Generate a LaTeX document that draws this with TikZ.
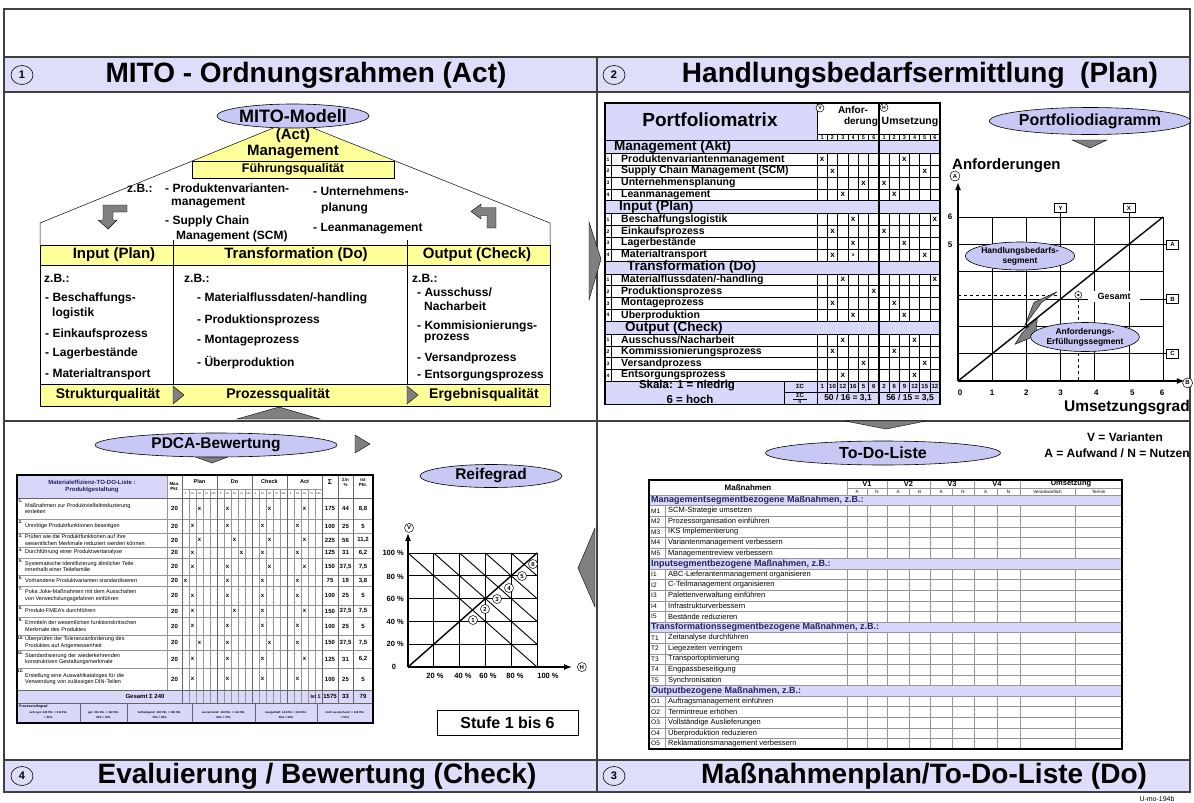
\documentclass[tikz,border=0pt]{standalone}
\usepackage{fontspec}
\setmainfont{Liberation Sans}
\usetikzlibrary{shapes.geometric,arrows.meta,positioning}

\definecolor{barlila}{RGB}{222,222,250}
\definecolor{ovallila}{RGB}{200,200,244}
\definecolor{bandlila}{RGB}{216,216,250}
\definecolor{hausgelb}{RGB}{255,255,153}
\definecolor{keilgrau}{RGB}{128,128,128}
\definecolor{gitter}{RGB}{150,150,150}
\definecolor{bandtext}{RGB}{35,35,95}

\newcommand{\schrift}[1]{\fontsize{#1}{#1}\selectfont}

\tikzset{
  rahmen/.style={draw=black!75, line width=1.4pt},
  titelbar/.style={draw=black!75, fill=barlila, line width=1.4pt},
  nummer/.style={ellipse, draw, line width=0.6pt, inner sep=0pt,
    minimum width=22pt, minimum height=19pt, font=\schrift{11}\bfseries},
  titel/.style={font=\schrift{28}\bfseries, inner sep=0pt},
  oval/.style={ellipse, draw, fill=ovallila, line width=0.6pt, inner sep=0pt},
  keil/.style={draw=black, fill=keilgrau, line width=0.4pt},
  gelbzelle/.style={draw, fill=hausgelb, line width=0.6pt},
  fett/.style={font=\schrift{#1}\bfseries, inner sep=0pt},
  links/.style={anchor=west, font=\schrift{#1}\bfseries, inner sep=0pt},
  kreis/.style={circle, draw, fill=white, line width=0.5pt, inner sep=0pt,
    minimum size=#1, font=\schrift{6}\bfseries},
  kreis/.default=9pt,
  kasten/.style={draw, fill=white, line width=0.5pt, inner sep=0pt,
    minimum width=12pt, minimum height=9pt, font=\schrift{6}\bfseries},
  duenn/.style={line width=0.5pt},
  grau/.style={draw=gitter, line width=0.4pt},
  achse/.style={line width=1.4pt, -{Latex[length=8pt,width=6pt]}},
}

\begin{document}
\begin{tikzpicture}[x=1pt, y=-1pt]
\useasboundingbox (0,0) rectangle (1194,803);

% Rahmen, Titelbalken, Quadranten
\draw[titelbar] (4,57) rectangle (1190,92);
\draw[titelbar] (4,760) rectangle (1190,792);
\draw[rahmen] (4,9) rectangle (1190,792);
\draw[rahmen] (597,57) -- (597,792);
\draw[rahmen] (4,421) -- (1190,421);

\node[nummer] (nr1) at (22,75) {1};
\node[titel] (tit1) at (306,75) {MITO - Ordnungsrahmen (Act)};
\node[nummer] (nr2) at (614,75) {2};
\node[titel] (tit2) at (920,75) {Handlungsbedarfsermittlung\ \ (Plan)};
\node[nummer] (nr4) at (22,776) {4};
\node[titel] (tit4) at (317,776) {Evaluierung / Bewertung (Check)};
\node[nummer] (nr3) at (614,776) {3};
\node[titel] (tit3) at (924,776) {Maßnahmenplan/To-Do-Liste (Do)};
\node[font=\schrift{7}, inner sep=0pt] (kennung) at (1157,799) {U-mo-194b};

% 1: MITO-Modell, Dach mit Management
\fill[hausgelb] (293,120) -- (192,161) -- (394,161) -- cycle;
\draw[duenn] (40,245) -- (40,223) -- (293,120) -- (550,223) -- (550,245);
\node[gelbzelle, minimum width=202pt, minimum height=17pt, font=\schrift{12.5}\bfseries, inner sep=0pt] (fuehrung) at (293,169.5) {Führungsqualität};
\node[oval, minimum width=142pt, minimum height=24pt, font=\schrift{18}\bfseries] (mito) at (293,116) {MITO-Modell};
\node[fett=15] (act) at (293,136) {(Act)};
\node[fett=15] (mgmt) at (293,152) {Management};

\node[links=12] (zb0) at (127,188) {z.B.:};
\node[links=12] (mb1) at (165,188) {- Produktenvarianten-};
\node[links=12] (mb2) at (171,203) {management};
\node[links=12] (mb3) at (165,221) {- Supply Chain};
\node[links=12] (mb4) at (176,236) {Management (SCM)};
\node[links=12] (mb5) at (313,191) {- Unternehmens-};
\node[links=12] (mb6) at (321,208) {planung};
\node[links=12] (mb7) at (313,229) {- Leanmanagement};

% Kreislaufpfeile im Dach
\draw[keil] (103,205) -- (127,205) -- (127,212) -- (113,212) -- (113,220) -- (117,220) -- (108,229) -- (98,220) -- (103,220) -- cycle;
\draw[keil] (471,211.5) -- (481,204) -- (481,207.5) -- (496,207.5) -- (496,228) -- (487,228) -- (487,215.5) -- (481,215.5) -- (481,219) -- cycle;

% Input / Transformation / Output
\draw[gelbzelle] (40,245) rectangle (550,265);
\draw[gelbzelle] (40,384) rectangle (550,406);
\draw[duenn] (40,265) rectangle (550,384);
\draw[duenn] (173,240) -- (173,384) (407,240) -- (407,384);
\node[fett=15] (inp) at (114,255) {Input (Plan)};
\node[fett=15] (trf) at (296,255) {Transformation (Do)};
\node[fett=15] (outp) at (477,255) {Output (Check)};

\foreach \txt/\x/\y [count=\ii] in {{z.B.:}/44/278, {- Beschaffungs-}/45/298, {logistik}/52/313,
    {- Einkaufsprozess}/45/334, {- Lagerbestände}/45/353, {- Materialtransport}/45/374}
  \node[links=12] (li\ii) at (\x,\y) {\txt};
\foreach \txt/\x/\y [count=\ii] in {{z.B.:}/184/278, {- Materialflussdaten/-handling}/197/298,
    {- Produktionsprozess}/197/320, {- Montageprozess}/197/341, {- Überproduktion}/197/363}
  \node[links=12] (mi\ii) at (\x,\y) {\txt};
\foreach \txt/\x/\y [count=\ii] in {{z.B.:}/412/278, {- Ausschuss/}/417/292, {Nacharbeit}/424/306,
    {- Kommisionierungs-}/417/326, {prozess}/424/339, {- Versandprozess}/417/358, {- Entsorgungsprozess}/417/376}
  \node[links=12] (re\ii) at (\x,\y) {\txt};

\node[fett=14] (struk) at (108,395) {Strukturqualität};
\node[fett=14] (proz) at (278,395) {Prozessqualität};
\node[fett=14] (ergeb) at (484,395) {Ergebnisqualität};
\draw[keil] (173,386) -- (184,395) -- (173,404) -- cycle;
\draw[keil] (407,386) -- (418,395) -- (407,404) -- cycle;

% Uebergaenge zwischen den Quadranten
\draw[keil] (589,222) -- (601,259) -- (589,300) -- cycle;
\draw[keil] (237,419) -- (279,407) -- (320,419) -- cycle;

% 2: Portfoliomatrix
\fill[bandlila] (605,103) rectangle (817,140.5);
\fill[bandlila] (605,381.3) rectangle (940,404.5);
\foreach \s in {0,...,3}
  \fill[bandlila] (605,{140.5+\s*60.2}) rectangle (940,{153.5+\s*60.2});
\draw[duenn] (817,134) -- (940,134);
\draw[duenn] (817,103) -- (817,140.5);
\foreach \cx in {1,...,5} {
  \draw[duenn] ({817+\cx*10.33},134) -- ({817+\cx*10.33},140.5);
  \draw[duenn] ({879+\cx*10.17},134) -- ({879+\cx*10.17},140.5);
  \draw[duenn] ({817+\cx*10.33},381.3) -- ({817+\cx*10.33},392.5);
  \draw[duenn] ({879+\cx*10.17},381.3) -- ({879+\cx*10.17},392.5);
}
\foreach \s in {0,...,3} {
  \draw[duenn] (605,{140.5+\s*60.2}) -- (940,{140.5+\s*60.2});
  \draw[duenn] (605,{153.5+\s*60.2}) -- (940,{153.5+\s*60.2});
  \draw[duenn] (611,{153.5+\s*60.2}) -- (611,{200.7+\s*60.2});
  \draw[duenn] (817,{153.5+\s*60.2}) -- (817,{200.7+\s*60.2});
  \foreach \cx in {1,...,5} {
    \draw[duenn] ({817+\cx*10.33},{153.5+\s*60.2}) -- ({817+\cx*10.33},{200.7+\s*60.2});
    \draw[duenn] ({879+\cx*10.17},{153.5+\s*60.2}) -- ({879+\cx*10.17},{200.7+\s*60.2});
  }
  \foreach \rr in {1,...,4}
    \draw[duenn] (605,{153.5+\s*60.2+\rr*11.8}) -- (940,{153.5+\s*60.2+\rr*11.8});
  \foreach \rr in {0,...,3}
    \node[fett=5] (pn\s\rr) at (608,{159.4+\s*60.2+\rr*11.8}) {\pgfmathparse{int(\rr+1)}\pgfmathresult};
}
\draw[duenn] (784,381.3) -- (784,404.5) (817,381.3) -- (817,404.5) (784,392.5) -- (940,392.5);
\draw[line width=1.3pt] (879,103) -- (879,404.5);
\draw[line width=1.3pt] (605,103) rectangle (940,404.5);

\node[fett=19] (pmtitel) at (710,120) {Portfoliomatrix};
\node[kreis=8pt, font=\schrift{5}\bfseries] (kv) at (820,108) {V};
\node[fett=10] (anf1) at (853,109.5) {Anfor-};
\node[fett=10] (anf2) at (861,122) {derung};
\node[kreis=8pt, font=\schrift{5}\bfseries] (kh) at (884,107.5) {H};
\node[fett=10.5] (umsh) at (910,122) {Umsetzung};
\foreach \cx in {1,...,6} {
  \node[fett=5.5] (na\cx) at ({817+(\cx-0.5)*10.33},137.3) {\cx};
  \node[fett=5.5] (nu\cx) at ({879+(\cx-0.5)*10.17},137.3) {\cx};
}
\foreach \s/\txt/\x in {0/{Management (Akt)}/614, 1/{Input (Plan)}/619, 2/{Transformation (Do)}/627, 3/{Output (Check)}/625}
  \node[links=13.5] (pb\s) at (\x,{147+\s*60.2}) {\txt};
\foreach \s/\rr/\txt in {0/0/Produktenvariantenmanagement, 0/1/{Supply Chain Management (SCM)}, 0/2/Unternehmensplanung, 0/3/Leanmanagement,
    1/0/Beschaffungslogistik, 1/1/Einkaufsprozess, 1/2/Lagerbestände, 1/3/Materialtransport,
    2/0/{Materialflussdaten/-handling}, 2/1/Produktionsprozess, 2/2/Montageprozess, 2/3/Überproduktion,
    3/0/{Ausschuss/Nacharbeit}, 3/1/Kommissionierungsprozess, 3/2/Versandprozess, 3/3/Entsorgungsprozess}
  \node[links=10.5] (pm\s\rr) at (621,{159.4+\s*60.2+\rr*11.8}) {\txt};
\foreach \s/\rr/\av/\uu in {0/0/1/3, 0/1/2/5, 0/2/5/1, 0/3/3/2, 1/0/4/6, 1/1/2/1, 1/2/4/3, 1/3/2/5,
    2/0/3/6, 2/2/2/2, 2/3/4/3, 3/0/3/4, 3/1/2/2, 3/2/5/5, 3/3/3/4} {
  \node[fett=8] (xa\s\rr) at ({817+(\av-0.5)*10.33},{159.4+\s*60.2+\rr*11.8}) {x};
  \node[fett=8] (xu\s\rr) at ({879+(\uu-0.5)*10.17},{159.4+\s*60.2+\rr*11.8}) {x};
}
\node[fett=8] (xa21) at ({817+5.5*10.33},{159.4+2*60.2+11.8}) {x};
\node[fett=5] (xa13b) at ({817+3.5*10.33},{159.4+60.2+3*11.8}) {x};

\node[fett=11.5] (skala1) at (687,386) {Skala: 1 = niedrig};
\node[fett=11.5] (skala2) at (690,399.5) {6 = hoch};
\node[fett=6] (sc1) at (800,386.5) {ΣC};
\node[fett=6] (sc2) at (800,395.5) {ΣC};
\node[fett=5] (sc3) at (800,402.5) {n};
\draw[duenn] (793,398.8) -- (807,398.8);
\foreach \val [count=\cx] in {1,10,12,16,5,6}
  \node[fett=6] (sa\cx) at ({817+(\cx-0.5)*10.33},386.5) {\val};
\foreach \val [count=\cx] in {2,6,9,12,15,12}
  \node[fett=6] (su\cx) at ({879+(\cx-0.5)*10.17},386.5) {\val};
\node[fett=8.5] (mwa) at (848,398.5) {50 / 16 = 3,1};
\node[fett=8.5] (mwu) at (910,398.5) {56 / 15 = 3,5};

% 2: Portfoliodiagramm
\node[oval, minimum width=166pt, minimum height=27pt, font=\schrift{16}\bfseries] (pdg) at (1090,121) {Portfoliodiagramm};
\draw[keil] (1072,140) -- (1107,140) -- (1090,148) -- cycle;
\node[links=15] (anfo) at (952,166) {Anforderungen};
\begin{scope}[shift={(958,381)}]
\begin{scope}[x=34.17pt, y=27.33pt]
  \coordinate (ursprung) at (0,0);
  \coordinate (yspitze) at (0,7.28);
  \coordinate (xspitze) at (6.64,0);
  \foreach \ii in {1,3,5,6} {
    \draw[line width=0.6pt] (\ii,0) -- (\ii,6);
    \draw[line width=0.6pt] (0,\ii) -- (6,\ii);
  }
  \foreach \ii in {2,4} {
    \draw[line width=1.6pt] (\ii,0) -- (\ii,6);
    \draw[line width=1.6pt] (0,\ii) -- (6,\ii);
  }
  \node[kasten] (bxY) at (3,6.33) {Y};
  \node[kasten] (bxX) at (5,6.33) {X};
  \node[kasten] (bxA) at (6.28,5) {A};
  \node[kasten] (bxB) at (6.28,3) {B};
  \node[kasten] (bxC) at (6.28,1) {C};
  \draw[line width=0.6pt] (3,6) -- (bxY) (5,6) -- (bxX) (6,5) -- (bxA) (6,3) -- (bxB) (6,1) -- (bxC);
  \draw[line width=1.4pt] (ursprung) -- (6,6);
  \draw[achse] (ursprung) -- (yspitze);
  \draw[achse] (ursprung) -- (xspitze);
  \node[kreis=10pt] (ka) at (-0.09,7.5) {A};
  \node[kreis=10pt] (kb) at (6.72,-0.07) {B};
  \draw[dashed, line width=0.6pt] (0,3.15) -- (2.9,3.15);
  \draw[dashed, line width=0.6pt] (3.52,3.0) -- (3.52,0);
  \node[fill=white, minimum width=52pt, minimum height=11pt, font=\schrift{9}\bfseries, inner sep=0pt] (gesamt) at (4.57,3.08) {Gesamt};
  \node[circle, draw, fill=white, line width=0.5pt, inner sep=0pt, minimum size=7pt] (gpunkt) at (3.52,3.15) {};
  \fill (gpunkt.center) circle (1.3pt);
  \node[fett=8] (ty6) at (-0.23,6) {6};
  \node[fett=8] (ty5) at (-0.23,5) {5};
  \foreach \x/\val in {0.06/0, 1/1, 2/2, 3/3, 4.05/4, 5.1/5, 5.97/6}
    \node[fett=8] (tx\val) at (\x,-0.44) {\val};
\end{scope}
\end{scope}
\draw[keil] (1025,325) -- (1034,302.3) -- (1057.3,291.7) -- (1041.7,302.3) -- cycle;
\draw[keil] (1015,344.3) -- (1021.7,333.3) -- (1037.3,318.3) -- (1035.7,335.7) -- cycle;
\node[oval, minimum width=96pt, minimum height=28pt, align=center, font=\fontsize{8.5}{10}\selectfont\bfseries] (hbs) at (1020,256) {Handlungsbedarfs-\\segment};
\node[oval, minimum width=95pt, minimum height=29pt, align=center, font=\fontsize{8.5}{10}\selectfont\bfseries] (aes) at (1085,337) {Anforderungs-\\Erfüllungssegment};
\node[anchor=east, font=\schrift{15.5}\bfseries, inner sep=0pt] (umsg) at (1190,408) {Umsetzungsgrad};

% 4: PDCA-Bewertung
\draw[keil] (190,455) -- (233,455) -- (212,463) -- cycle;
\node[oval, minimum width=242pt, minimum height=24pt, font=\schrift{15.5}\bfseries] (pdca) at (216,445) {PDCA-Bewertung};
\draw[keil] (355,435) -- (370,444) -- (355,453) -- cycle;

\fill[bandlila] (17,475) rectangle (167,498);
\fill[bandlila] (17,690) rectangle (373,723);
\foreach \n/\ya/\yb/\txt/\xp/\xd/\xc/\xa/\su/\pz/\ist in {
  1/498/519/{Maßnahmen zur Produktvielfaltreduzierung\\einleiten}/2/1/2/2/175/44/{8,8},
  2/519/533/{Unnötige Produktfunktionen beseitigen}/1/1/1/1/100/25/5,
  3/533/547/{Prüfen wie die Produktfunktionen auf ihre\\wesentlichen Merkmale reduziert werden können}/2/2/2/2/225/56/{11,2},
  4/547/558/{Durchführung einer Produktwertanalyse}/1/3/1/1/125/31/{6,2},
  5/558/575/{Systematische Identifizierung ähnlicher Teile\\innerhalb einer Teilefamilie}/1/1/2/2/150/{37,5}/{7,5},
  6/575/586/{Vorhandene Produktvarianten standardisieren}/0/1/1/1/75/19/{3,8},
  7/586/605/{Poka Joke-Maßnahmen mit dem Ausschalten\\von Verwechslungsgefahren einführen}/1/1/1/1/100/25/5,
  8/605/617/{Produkt-FMEA's durchführen}/1/2/1/2/150/{37,5}/{7,5},
  9/617/635/{Ermitteln der wesentlichen funktionskritischen\\Merkmale des Produktes}/1/1/1/1/100/25/5,
  10/635/650/{Überprüfen der Toleranzanforderung des\\Produktes auf Angemessenheit}/2/1/2/1/150/{37,5}/{7,5},
  11/650/668/{Standardisierung der wiederkehrenden\\konstruktiven Gestaltungsmerkmale}/1/1/1/2/125/31/{6,2},
  12/668/690/{Erstellung eine Auswahlkataloges für die\\Verwendung von zulässigen DIN-Teilen}/1/1/1/1/100/25/5} {
  \draw[grau] (17,\yb) -- (373,\yb);
  \node[anchor=west, align=left, font=\fontsize{5.5}{6.5}\selectfont, inner sep=0pt] (ptx\n) at (25,{(\ya+\yb)/2}) {\txt};
  \node[fett=4] (pnr\n) at (20.5,{\ya+3.5}) {\n.};
  \node[fett=6] (pmax\n) at (174.5,{(\ya+\yb)/2}) {20};
  \node[fett=6] (pxp\n) at ({185.5+7*\xp},{(\ya+\yb)/2}) {x};
  \node[fett=6] (pxd\n) at ({220.5+7*\xd},{(\ya+\yb)/2}) {x};
  \node[fett=6] (pxc\n) at ({255.5+7*\xc},{(\ya+\yb)/2}) {x};
  \node[fett=6] (pxa\n) at ({290.5+7*\xa},{(\ya+\yb)/2}) {x};
  \node[fett=6] (psu\n) at (330,{(\ya+\yb)/2}) {\su};
  \node[fett=6] (ppz\n) at (345.5,{(\ya+\yb)/2}) {\pz};
  \node[fett=6] (pist\n) at (363,{(\ya+\yb)/2}) {\ist};
}
\foreach \g in {182,217,252,287}
  \foreach \kk in {1,...,4}
    \draw[draw=gitter, line width=0.25pt] ({\g+7*\kk},489) -- ({\g+7*\kk},703);
\draw[grau] (167,475) -- (167,690);
\foreach \x in {182,217,252,287,322,338,353}
  \draw[draw=black!60, line width=0.5pt] (\x,475) -- (\x,703);
\draw[grau] (182,489) -- (322,489);
\draw[draw=black!60, line width=0.5pt] (17,498) -- (373,498) (17,690) -- (373,690) (17,703) -- (373,703);
\foreach \x in {80,127,192,255,317}
  \draw[draw=black!60, line width=0.5pt] (\x,703) -- (\x,723);
\draw[line width=1.2pt] (17,475) rectangle (373,723);

\node[align=center, font=\fontsize{6}{7}\selectfont\bfseries, text=bandtext, inner sep=0pt] (phead) at (92,486.5) {Materialeffizienz-TO-DO-Liste :\\Produktgestaltung};
\node[align=center, font=\fontsize{4.5}{5}\selectfont\bfseries, inner sep=0pt] (pmaxh) at (174.5,486.5) {Max.\\Pkt.};
\foreach \txt/\g in {Plan/182, Do/217, Check/252, Act/287}
  \node[fett=5.5] (ph\txt) at ({\g+17.5},482) {\txt};
\foreach \g in {182,217,252,287}
  \foreach \val [count=\kk from 0] in {0,25,50,75,100}
    \node[font=\schrift{2.5}, inner sep=0pt] (ps\g\kk) at ({\g+3.5+7*\kk},493.5) {\val};
\node[fett=7] (phs) at (330,482) {Σ};
\node[align=center, font=\fontsize{4.5}{5}\selectfont\bfseries, inner sep=0pt] (php) at (345.5,482) {Σ/n\\\%};
\node[align=center, font=\fontsize{4.5}{5}\selectfont\bfseries, inner sep=0pt] (phi) at (363,482) {Ist\\Pkt.};

\node[fett=6] (pges) at (145,696.5) {Gesamt Σ 240};
\node[anchor=east, font=\schrift{5}\bfseries, inner sep=0pt] (pist) at (321,696.5) {Ist Σ};
\node[fett=6] (pgsu) at (330,696.5) {1575};
\node[fett=6] (pgpz) at (345.5,696.5) {33};
\node[fett=6] (pgis) at (363,696.5) {79};
\node[anchor=west, font=\schrift{3.5}\bfseries, inner sep=0pt] (preife) at (19,706.5) {Prozessreifegrad};
\foreach \x/\txt [count=\ii] in {48.5/{sehr gut: 240 Pkt. > 216 Pkt.\\> 90\%}, 103.5/{gut: 216 Pkt. > 192 Pkt.\\80\% < 90\%},
    159.5/{befriedigend: 192 Pkt. > 168 Pkt.\\70\% < 80\%}, 223.5/{ausreichend: 168 Pkt. > 144 Pkt.\\60\% < 70\%},
    286/{mangelhaft: 144 Pkt. > 120 Pkt.\\50\% < 60\%}, 345/{nicht ausreichend: < 120 Pkt.\\< 50\%}}
  \node[align=center, font=\fontsize{2.8}{5}\selectfont\bfseries, inner sep=0pt] (pstufe\ii) at (\x,715) {\txt};

% 4: Reifegrad
\node[oval, minimum width=142pt, minimum height=23pt, font=\schrift{15.5}\bfseries] (reife) at (491,476) {Reifegrad};
\begin{scope}[shift={(408,667)}]
\begin{scope}[x=25.8pt, y=22.8pt]
  \coordinate (rg0) at (0,0);
  \coordinate (rgy) at (0,5.88);
  \coordinate (rgx) at (6.36,0);
  \foreach \ii in {0,...,5} {
    \draw[line width=0.9pt] (\ii,0) -- (\ii,5);
    \draw[line width=0.9pt] (0,\ii) -- (5,\ii);
  }
  \foreach \kk in {0,...,4}
    \draw[line width=0.9pt] (\kk,5) -- (5,\kk);
  \draw[line width=1.4pt] (rg0) -- (5,5);
  \draw[achse] (rg0) -- (rgy);
  \draw[achse] (rg0) -- (rgx);
  \node[kreis=9pt] (rgv) at (0.04,6.1) {V};
  \node[kreis=9pt] (rgh) at (6.74,0) {H};
\end{scope}
\end{scope}
\foreach \x/\y [count=\ii] in {473/620, 485/609, 497/599, 509/588, 522/576, 533/564}
  \node[kreis=9pt] (st\ii) at (\x,\y) {\ii};
\foreach \txt/\y [count=\ii] in {{100 \%}/553, {80 \%}/577, {60 \%}/599, {40 \%}/622, {20 \%}/644}
  \node[anchor=east, font=\schrift{7.5}\bfseries, inner sep=0pt] (ry\ii) at (404,\y) {\txt};
\node[fett=7.5] (ry0) at (394,667) {0};
\foreach \txt/\x [count=\ii] in {{20 \%}/435, {40 \%}/463, {60 \%}/488, {80 \%}/515, {100 \%}/548}
  \node[fett=7.5] (rx\ii) at (\x,676) {\txt};
\node[draw, line width=0.7pt, minimum width=141pt, minimum height=25pt, font=\schrift{16}\bfseries, inner sep=0pt] (stufe) at (507.5,722.5) {Stufe 1 bis 6};
\draw[keil] (595,528) -- (578,568) -- (595,607) -- cycle;

% 3: To-Do-Liste
\draw[keil] (845,421) -- (926,421) -- (886,429) -- cycle;
\node[oval, minimum width=235pt, minimum height=24pt, font=\schrift{16}\bfseries] (todo) at (883,453) {To-Do-Liste};
\node[fett=12] (leg1) at (1125,437) {V = Varianten};
\node[fett=12] (leg2) at (1117,453) {A = Aufwand / N = Nutzen};

\foreach \kk/\txt in {0/{Managementsegmentbezogene Maßnahmen, z.B.:}, 6/{Inputsegmentbezogene Maßnahmen, z.B.:},
    12/{Transformationssegmentbezogene Maßnahmen, z.B.:}, 18/{Outputbezogene Maßnahmen, z.B.:}} {
  \fill[bandlila] (649,{495+\kk*10.583}) rectangle (1122,{495+(\kk+1)*10.583});
  \node[links=9, text=bandtext] (tb\kk) at (651,{495+(\kk+0.5)*10.583}) {\txt};
}
\foreach \kk/\cd/\txt in {1/M1/SCM-Strategie umsetzen, 2/M2/Prozessorganisation einführen, 3/M3/IKS Implementierung,
    4/M4/Variantenmanagement verbessern, 5/M5/Managementreview verbessern,
    7/I1/ABC-Lieferantenmanagement organisieren, 8/I2/C-Teilmanagement organisieren, 9/I3/Palettenverwaltung einführen,
    10/I4/Infrastrukturverbessern, 11/I5/Bestände reduzieren,
    13/T1/Zeitanalyse durchführen, 14/T2/Liegezeiten verringern, 15/T3/Transportoptimierung,
    16/T4/Engpassbeseitigung, 17/T5/Synchronisation,
    19/O1/Auftragsmanagement einführen, 20/O2/Termintreue erhöhen, 21/O3/Vollständige Auslieferungen,
    22/O4/Überproduktion reduzieren, 23/O5/Reklamationsmanagement verbessern} {
  \node[anchor=west, font=\schrift{6.5}, inner sep=0pt] (tc\kk) at (651,{495+(\kk+0.5)*10.583}) {\cd};
  \node[anchor=west, font=\schrift{7.5}, inner sep=0pt] (tt\kk) at (668,{495+(\kk+0.5)*10.583}) {\txt};
}
\foreach \kk in {1,...,23}
  \draw[grau] (649,{495+\kk*10.583}) -- (1122,{495+\kk*10.583});
\foreach \bl in {0,6,12,18}
  \foreach \x in {665,847,867,887,909,930,952,974,997,1020,1075}
    \draw[grau] (\x,{495+(\bl+1)*10.583}) -- (\x,{495+(\bl+6)*10.583});
\draw[grau] (847,488) -- (1122,488) (649,495) -- (1122,495);
\foreach \x in {847,887,930,974,1020}
  \draw[grau] (\x,480) -- (\x,495);
\foreach \x in {867,909,952,997,1075}
  \draw[grau] (\x,488) -- (\x,495);
\draw[line width=1.2pt] (649,480) rectangle (1122,749);

\node[fett=8] (thm) at (748,488) {Maßnahmen};
\foreach \val/\x in {V1/867, V2/908.5, V3/952, V4/997}
  \node[fett=7.5] (th\val) at (\x,484) {\val};
\node[fett=7.5] (thu) at (1071,484) {Umsetzung};
\foreach \x [count=\ii] in {857,877,898,919.5,941,963,985.5,1008.5}
  \node[font=\schrift{4.5}, inner sep=0pt] (tan\ii) at (\x,491.5) {\ifodd\ii A\else N\fi};
\node[font=\schrift{4.5}, inner sep=0pt] (thv) at (1047.5,491.5) {Verantwortlich};
\node[font=\schrift{4.5}, inner sep=0pt] (tht) at (1098.5,491.5) {Termin};

\end{tikzpicture}
\end{document}
